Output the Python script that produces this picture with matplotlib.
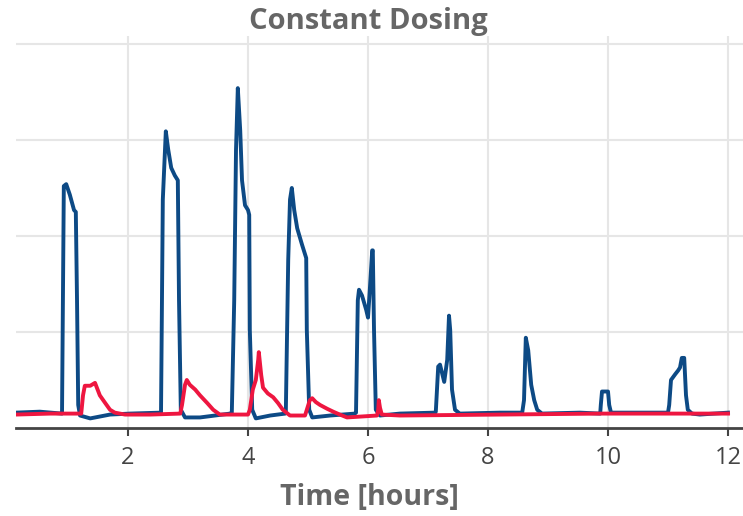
import matplotlib
matplotlib.use("Agg")
import matplotlib.pyplot as plt

# blue trace (time in hours, signal)
blue_t = [0.13, 0.53, 0.90, 0.93, 0.97, 1.03, 1.10, 1.13, 1.15, 1.17, 1.20, 1.37, 1.70, 2.03, 2.55,
          2.58, 2.63, 2.67, 2.72, 2.78, 2.83, 2.85, 2.88, 2.95, 3.20, 3.70,
          3.73, 3.77, 3.80, 3.83, 3.87, 3.90, 3.95, 4.00, 4.02, 4.03, 4.07, 4.13, 4.37, 4.62,
          4.63, 4.67, 4.70, 4.73, 4.77, 4.82, 4.90, 4.97, 4.98, 5.02, 5.07, 5.37, 5.78,
          5.80, 5.83, 5.85, 5.90, 5.97, 6.00, 6.03, 6.07, 6.08, 6.10, 6.13, 6.20, 6.53, 7.12,
          7.13, 7.17, 7.20, 7.27, 7.32, 7.35, 7.37, 7.40, 7.45, 7.53, 8.20, 8.57,
          8.60, 8.63, 8.67, 8.72, 8.77, 8.82, 8.90, 9.53, 9.87,
          9.88, 9.90, 10.00, 10.02, 10.05, 10.53, 11.00,
          11.02, 11.05, 11.12, 11.17, 11.20, 11.23, 11.27, 11.30, 11.33, 11.40, 11.53, 12.00]
blue_y = [0.16, 0.17, 0.15, 2.52, 2.54, 2.43, 2.27, 2.25, 1.33, 0.24, 0.13, 0.10, 0.14, 0.15, 0.16,
          2.38, 3.09, 2.90, 2.71, 2.63, 2.58, 1.33, 0.19, 0.11, 0.11, 0.15,
          0.16, 1.33, 2.90, 3.54, 3.10, 2.58, 2.32, 2.27, 2.22, 1.02, 0.19, 0.10, 0.13, 0.15,
          0.16, 1.75, 2.38, 2.50, 2.27, 2.08, 1.91, 1.77, 1.02, 0.19, 0.11, 0.13, 0.15,
          0.16, 1.33, 1.44, 1.38, 1.23, 1.15, 1.44, 1.85, 1.85, 1.02, 0.19, 0.13, 0.15, 0.16,
          0.17, 0.64, 0.66, 0.48, 0.71, 1.17, 1.02, 0.40, 0.19, 0.15, 0.16, 0.16,
          0.29, 0.94, 0.81, 0.45, 0.29, 0.19, 0.15, 0.16, 0.15,
          0.24, 0.38, 0.38, 0.24, 0.16, 0.16, 0.16,
          0.24, 0.50, 0.56, 0.60, 0.63, 0.73, 0.73, 0.34, 0.19, 0.15, 0.14, 0.16]

# red trace
red_t = [0.13, 0.70, 1.22, 1.25, 1.28, 1.37, 1.45, 1.53, 1.62, 1.70, 1.78, 1.95, 2.37, 2.87,
         2.90, 2.95, 2.98, 3.03, 3.12, 3.20, 3.32, 3.42, 3.53, 4.00,
         4.03, 4.08, 4.13, 4.17, 4.18, 4.22, 4.25, 4.33, 4.42, 4.50, 4.58, 4.70, 4.95,
         4.98, 5.03, 5.07, 5.13, 5.20, 5.32, 5.42, 5.53, 5.65, 6.15,
         6.17, 6.18, 6.20, 6.23, 6.53, 8.20, 9.87, 12.00]
red_y = [0.14, 0.15, 0.15, 0.34, 0.44, 0.44, 0.47, 0.34, 0.26, 0.19, 0.16, 0.14, 0.14, 0.15,
         0.24, 0.45, 0.50, 0.45, 0.40, 0.34, 0.26, 0.19, 0.14, 0.14,
         0.19, 0.40, 0.50, 0.71, 0.79, 0.55, 0.42, 0.36, 0.32, 0.26, 0.19, 0.13, 0.13,
         0.19, 0.29, 0.31, 0.27, 0.24, 0.20, 0.17, 0.14, 0.11, 0.13,
         0.19, 0.29, 0.21, 0.14, 0.13, 0.14, 0.15, 0.15]

x_ticks = [2, 4, 6, 8, 10, 12]
y_grid = [1, 2, 3, 4]

fig = plt.figure(figsize=(7.43, 5.16), dpi=100)
ax = fig.add_axes([16 / 743, 88 / 516, 727 / 743, 392 / 516])

ax.plot(blue_t, blue_y, color="#0d4a85", lw=2.8, solid_joinstyle="round")
ax.plot(red_t, red_y, color="#ee1640", lw=2.8, solid_joinstyle="round")

ax.set_xlim(0.133, 12.25)
ax.set_ylim(0, 4.083)
ax.set_xticks(x_ticks)
ax.set_yticks(y_grid)
ax.set_yticklabels([])
ax.tick_params(axis="y", length=0)
ax.tick_params(axis="x", length=6, width=1.5, color="#444444", labelsize=17,
               labelcolor="#444444", pad=7)
for lab in ax.get_xticklabels():
    lab.set_family("Open Sans")

ax.grid(True, color="#e6e6e6", lw=1.5)
ax.set_axisbelow(True)
for s in ["top", "right", "left"]:
    ax.spines[s].set_visible(False)
ax.spines["bottom"].set_color("#444444")
ax.spines["bottom"].set_linewidth(2)

fig.text(369 / 743, 1 - 497 / 516, "Time [hours]", family="Open Sans", fontweight="bold",
         fontsize=20.5, color="#666666", ha="center", va="center")
fig.text(368 / 743, 1 - 22 / 516, "Constant Dosing", family="Open Sans", fontweight="bold",
         fontsize=21, color="#666666", ha="center", va="center")

fig.savefig("out.png", dpi=100)
